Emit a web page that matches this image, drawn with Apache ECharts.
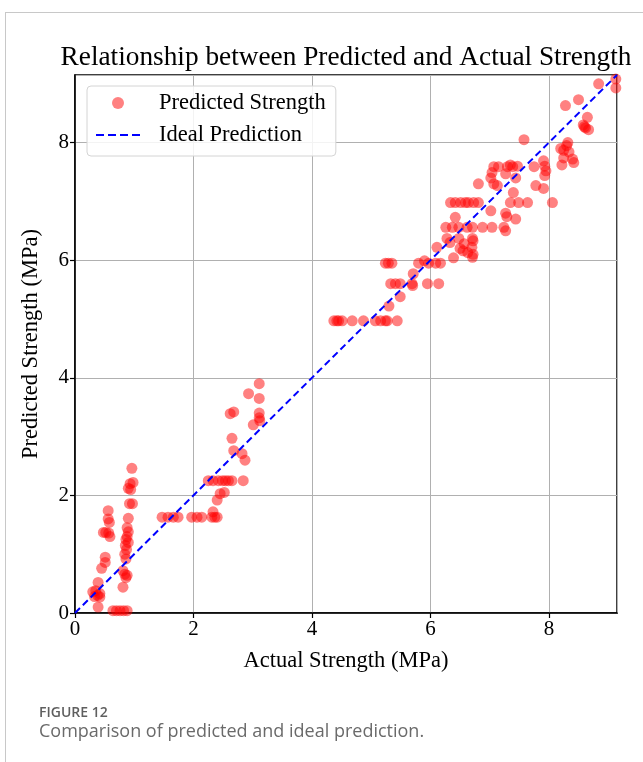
<!DOCTYPE html>
<html>
<head>
<meta charset="utf-8">
<script src="https://cdn.jsdelivr.net/npm/echarts@6/dist/echarts.min.js"></script>
<style>
html,body{margin:0;padding:0;background:#fff;}
#c{width:643px;height:762px;}
</style>
</head>
<body>
<div id="c"></div>
<script>
// Actual vs predicted strength (MPa)
const actual = [
  0.96,0.93,0.98,0.90,0.94,0.92,0.97,0.90,0.88,0.90,0.88,0.86,0.90,0.85,0.87,0.84,0.86,0.81,0.84,0.88,0.86,0.81,0.64,0.70,0.76,0.82,0.88,
  0.56,0.56,0.58,0.48,0.52,0.57,0.59,0.51,0.51,0.45,0.39,0.30,0.35,0.42,0.33,0.42,0.38,0.39,
  1.47,1.57,1.66,1.74,1.97,2.06,2.14,2.31,2.36,2.40,2.33,2.40,2.45,2.52,
  2.25,2.33,2.42,2.49,2.54,2.59,2.65,2.84,
  2.65,2.68,2.82,2.87,2.62,2.68,3.11,2.93,3.11,3.11,3.11,3.12,3.01,
  4.37,4.42,4.45,4.51,4.68,4.87,5.07,5.16,5.24,5.27,5.44,5.30,5.49,
  5.33,5.41,5.49,5.69,5.95,6.14,5.70,5.71,
  5.24,5.29,5.35,5.80,5.97,6.09,6.17,6.39,6.11,5.90,
  6.57,6.72,6.72,6.63,6.71,6.55,6.28,6.48,6.71,6.33,6.50,6.70,
  6.26,6.37,6.48,6.62,6.71,6.88,7.04,7.24,7.27,6.42,
  6.34,6.42,6.51,6.59,6.64,6.73,6.81,7.35,7.49,7.64,8.06,
  7.02,7.27,7.29,7.44,6.81,7.02,7.13,7.07,7.40,
  7.07,7.15,7.30,7.35,7.39,7.47,7.27,7.44,7.04,
  7.58,7.75,7.91,7.93,7.95,7.93,7.78,7.91,
  8.32,8.20,8.25,8.34,8.30,8.25,8.40,8.42,8.22,
  8.28,8.50,8.65,8.58,8.62,8.67,8.60,8.84,9.13,9.13
];
const predicted = [
  2.46,2.20,2.22,2.12,2.10,1.86,1.86,1.61,1.45,1.38,1.30,1.25,1.20,1.15,1.08,1.00,0.92,0.72,0.66,0.64,0.60,0.44,0.04,0.04,0.04,0.04,0.04,
  1.74,1.60,1.54,1.37,1.37,1.36,1.30,0.95,0.86,0.76,0.52,0.36,0.38,0.33,0.28,0.27,0.30,0.10,
  1.63,1.63,1.63,1.63,1.63,1.63,1.63,1.63,1.63,1.63,1.72,1.92,2.03,2.05,
  2.25,2.25,2.25,2.25,2.25,2.25,2.25,2.25,
  2.97,2.76,2.71,2.60,3.39,3.42,3.90,3.73,3.65,3.40,3.32,3.27,3.20,
  4.97,4.97,4.97,4.97,4.97,4.97,4.97,4.97,4.97,4.97,4.97,5.22,5.38,
  5.60,5.60,5.60,5.60,5.60,5.60,5.57,5.77,
  5.95,5.95,5.95,5.95,5.95,5.95,5.95,6.04,6.22,5.99,
  6.28,6.33,6.10,6.13,6.05,6.16,6.37,6.37,6.37,6.30,6.20,6.22,
  6.56,6.56,6.56,6.56,6.56,6.56,6.56,6.56,6.50,6.73,
  6.98,6.98,6.98,6.98,6.98,6.98,6.98,6.98,6.98,6.98,6.98,
  6.84,6.80,6.74,6.70,7.30,7.40,7.27,7.30,7.15,
  7.59,7.59,7.59,7.62,7.59,7.60,7.47,7.40,7.49,
  8.05,7.59,7.69,7.60,7.52,7.44,7.27,7.22,
  8.00,7.90,7.87,7.84,7.95,7.74,7.72,7.66,7.62,
  8.63,8.73,8.43,8.30,8.25,8.22,8.27,9.00,9.08,8.93
];
const idealLine = [0, 9.15];
const axisMax = 9.15;
const tickValues = [0, 2, 4, 6, 8];

const scatterData = actual.map((a, i) => [a, predicted[i]]);
const lineData = idealLine.map(v => [v, v]);
const serif = '"Liberation Serif", "Times New Roman", serif';
const dashIcon = 'path://M0,0h8v2h-8z M12,0h8v2h-8z M24,0h8v2h-8z M36,0h8v2h-8z';

const chart = echarts.init(document.getElementById('c'), null, {renderer: 'canvas'});
chart.setOption({
  backgroundColor: '#fff',
  animation: false,
  title: {
    text: 'Relationship between Predicted and Actual Strength',
    left: 341, top: 39, textAlign: 'center',
    textStyle: {fontFamily: serif, fontSize: 27.3, fontWeight: 'normal', color: '#000'}
  },
  grid: {left: 75, top: 75, right: 26, bottom: 149, show: true, borderColor: '#000', borderWidth: 1.5, backgroundColor: 'transparent'},
  legend: {
    orient: 'vertical', left: 87, top: 86,
    backgroundColor: 'rgba(255,255,255,0.85)', borderColor: '#d4d4d4', borderWidth: 1, borderRadius: 4,
    padding: [5, 10, 9, 9], itemGap: 8, itemWidth: 44, itemHeight: 12,
    textStyle: {fontFamily: serif, fontSize: 22.5, color: '#000', lineHeight: 24, padding: [0, 0, 0, 14]},
    data: [
      {name: 'Predicted Strength', icon: 'circle'},
      {name: 'Ideal Prediction', icon: dashIcon, itemStyle: {color: '#0000ff'}}
    ]
  },
  xAxis: {
    type: 'value', min: 0, max: axisMax, interval: 2,
    name: 'Actual Strength (MPa)', nameLocation: 'middle', nameGap: 37,
    nameTextStyle: {fontFamily: serif, fontSize: 22.5, color: '#000'},
    axisLine: {show: true, onZero: false, lineStyle: {color: '#000', width: 1.5}},
    axisTick: {show: true, length: 5, lineStyle: {color: '#000', width: 1.2}},
    axisLabel: {fontFamily: serif, fontSize: 21, color: '#000', margin: 6, showMaxLabel: false,
      formatter: v => tickValues.includes(v) ? String(v) : ''},
    splitLine: {show: true, lineStyle: {color: '#b0b0b0', width: 1}}
  },
  yAxis: {
    type: 'value', min: 0, max: axisMax, interval: 2,
    name: 'Predicted Strength (MPa)', nameLocation: 'middle', nameGap: 32,
    nameTextStyle: {fontFamily: serif, fontSize: 22.5, color: '#000'},
    axisLine: {show: true, onZero: false, lineStyle: {color: '#000', width: 1.5}},
    axisTick: {show: true, length: 5, lineStyle: {color: '#000', width: 1.2}},
    axisLabel: {fontFamily: serif, fontSize: 21, color: '#000', margin: 6, showMaxLabel: false,
      formatter: v => tickValues.includes(v) ? String(v) : ''},
    splitLine: {show: true, lineStyle: {color: '#b0b0b0', width: 1}}
  },
  series: [
    {
      name: 'Predicted Strength', type: 'scatter', data: scatterData,
      symbolSize: 11, clip: true,
      itemStyle: {color: 'rgba(255,0,0,0.62)'}
    },
    {
      name: 'Ideal Prediction', type: 'line', data: lineData,
      symbol: 'none', z: 3,
      lineStyle: {color: '#0000ff', width: 2, type: [7, 4]},
      itemStyle: {color: '#0000ff'}
    }
  ],
  graphic: [
    {type: 'line', shape: {x1: 5, y1: 12.5, x2: 643, y2: 12.5}, style: {stroke: '#c8c8c8', lineWidth: 1}},
    {type: 'line', shape: {x1: 5.5, y1: 12, x2: 5.5, y2: 762}, style: {stroke: '#c8c8c8', lineWidth: 1}},
    {type: 'text', left: 39, top: 706, style: {text: 'FIGURE 12', font: '600 14px "Open Sans", "Noto Sans", sans-serif', fill: '#5f5f5f'}},
    {type: 'text', left: 39, top: 723, style: {text: 'Comparison of predicted and ideal prediction.', font: '18px "Open Sans", "Noto Sans", sans-serif', fill: '#6a6a6a'}}
  ]
});
</script>
</body>
</html>
